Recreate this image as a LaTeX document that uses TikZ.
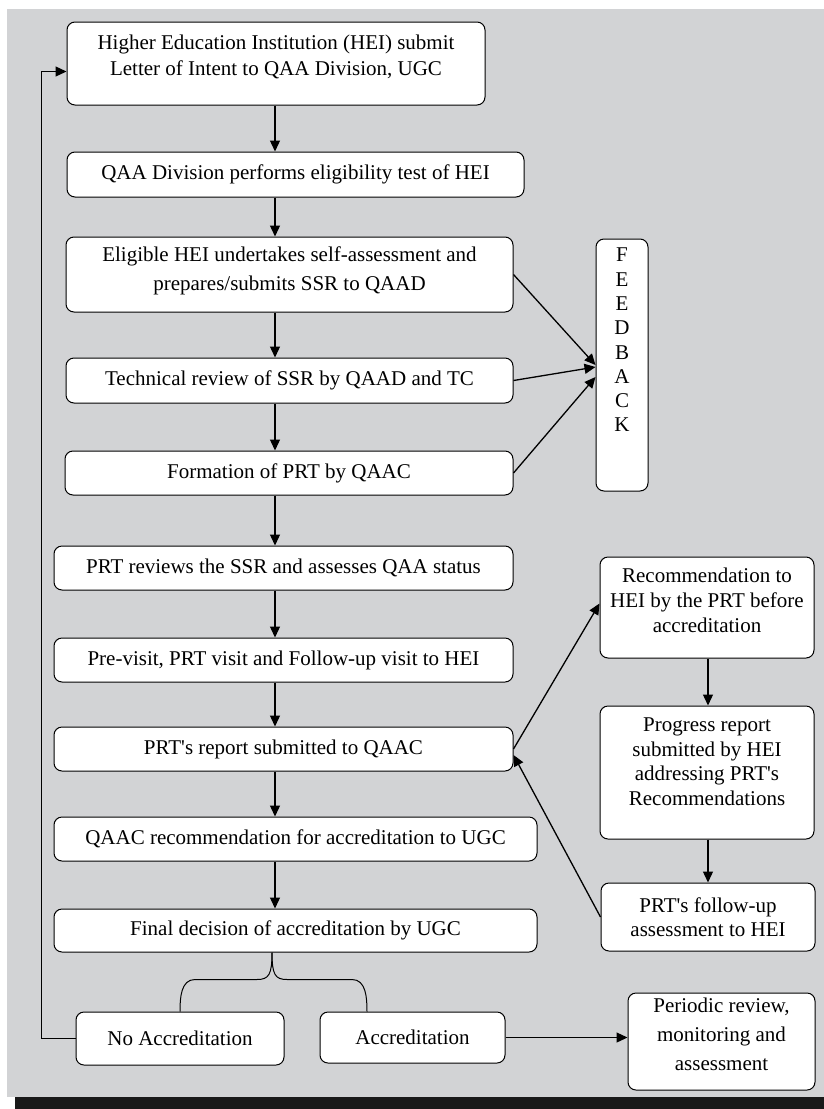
\documentclass[tikz,border=0pt]{standalone}
\usepackage{fontspec}
\setmainfont{Liberation Serif}
\usetikzlibrary{arrows.meta}
\definecolor{bggrey}{RGB}{210,211,213}
\newcommand{\boxfont}{\fontsize{21}{26}\selectfont}
\newcommand{\apos}{\textquotesingle}
\begin{document}
\begin{tikzpicture}
        [x=1pt, y=-1pt, >={Triangle[length=11pt,width=10pt]},
         box/.style={draw, fill=white, rounded corners=8pt, line width=1pt,
                     align=center, inner sep=0pt, font=\boxfont},
         link/.style={->, line width=1.3pt}]
        \useasboundingbox (0,0) rectangle (824,1109);
        \fill[bggrey] (7,9) rectangle (824,1097);
        \fill[black!90] (15,1097) rectangle (824,1109);
        % main column
        \node (hei) [box, minimum width=418, minimum height=83, text depth=17pt] at (276,63.5)
            {Higher Education Institution (HEI) submit\\Letter of Intent to QAA Division, UGC};
        \node (qaa) [box, minimum width=457, minimum height=45] at (295.5,174.5)
            {QAA Division performs eligibility test of HEI};
        \node (elig) [box, minimum width=447, minimum height=75, text depth=12pt,
            font=\fontsize{21}{29}\selectfont] at (289.5,274.5)
            {Eligible HEI undertakes self-assessment and\\prepares/submits SSR to QAAD};
        \node (tech) [box, minimum width=447, minimum height=45] at (289.5,380.5)
            {Technical review of SSR by QAAD and TC};
        \node (form) [box, minimum width=448, minimum height=44] at (289,473)
            {Formation of PRT by QAAC};
        \node (prtrev) [box, minimum width=459, minimum height=44] at (283.5,568)
            {PRT reviews the SSR and assesses QAA status};
        \node (visit) [box, minimum width=459, minimum height=44] at (283.5,660)
            {Pre-visit, PRT visit and Follow-up visit to HEI};
        \node (report) [box, minimum width=459, minimum height=44] at (283.5,749)
            {PRT\apos s report submitted to QAAC};
        \node (qaacrec) [box, minimum width=483, minimum height=44] at (295.5,839)
            {QAAC recommendation for accreditation to UGC};
        \node (final) [box, minimum width=483, minimum height=43] at (295.5,930.5)
            {Final decision of accreditation by UGC};
        \node (noacc) [box, minimum width=208, minimum height=53] at (180,1038.5)
            {No Accreditation};
        \node (acc) [box, minimum width=185, minimum height=51] at (412.5,1037.5)
            {Accreditation};
        % right side
        \node (feedback) [box, minimum width=52, minimum height=252, text depth=50pt,
            font=\fontsize{21}{24.3}\selectfont] at (622,365)
            {F\\E\\E\\D\\B\\A\\C\\K};
        \node (recom) [box, minimum width=214, minimum height=101, text depth=15pt,
            font=\fontsize{21}{25}\selectfont] at (707,607.5)
            {Recommendation to\\HEI by the PRT before\\accreditation};
        \node (progress) [box, minimum width=214, minimum height=133, text depth=22pt,
            font=\fontsize{21}{24.5}\selectfont] at (707,772.5)
            {Progress report\\submitted by HEI\\addressing PRT\apos s\\Recommendations};
        \node (followup) [box, minimum width=214, minimum height=68,
            font=\fontsize{21}{24}\selectfont] at (708,917)
            {PRT\apos s follow-up\\assessment to HEI};
        \node (periodic) [box, minimum width=187, minimum height=97, text depth=15pt,
            font=\fontsize{21}{29}\selectfont] at (721.5,1041.5)
            {Periodic review,\\monitoring and\\assessment};
        \coordinate (spine) at (275,0);
        \coordinate (tip) at (272,0);
        \coordinate (rb) at (367,0);
        % arrows down the column
        \draw [link] (hei.south -| spine) -- (qaa.north -| spine);
        \draw [link] (qaa.south -| spine) -- (elig.north -| spine);
        \draw [link] (elig.south -| spine) -- (tech.north -| spine);
        \draw [link] (tech.south -| spine) -- (form.north -| spine);
        \draw [link] (form.south -| spine) -- (prtrev.north -| spine);
        \draw [link] (prtrev.south -| spine) -- (visit.north -| spine);
        \draw [link] (visit.south -| spine) -- (report.north -| spine);
        \draw [link] (report.south -| spine) -- (qaacrec.north -| spine);
        \draw [link] (qaacrec.south -| spine) -- (final.north -| spine);
        % brace
        \draw [line width=1pt] (final.south -| tip) .. controls +(0,22) and +(12,0) .. ++(-15,27)
            -- ++(-62,0) .. controls +(-14,0) and +(0,-14) .. (noacc.north);
        \draw [line width=1pt] (final.south -| tip) .. controls +(0,22) and +(-12,0) .. ++(15,27)
            -- ++(65,0) .. controls +(14,0) and +(0,-14) .. (acc.north -| rb);
        % feedback
        \draw [link] (elig.east) -- (feedback.west);
        \draw [link] (tech.east) -- ([yshift=-2pt]feedback.west);
        \draw [link] (form.east) -- ([yshift=-12pt]feedback.west);
        % recommendations loop
        \draw [link] (report.east) -- ([yshift=4pt]recom.west);
        \draw [link] (recom.south -| followup) -- (progress.north -| followup);
        \draw [link] (progress.south -| followup) -- (followup.north);
        \draw [link] (followup.west) -- ([yshift=-6pt]report.east);
        % outcomes
        \draw [link] (acc.east) -- (acc.east -| periodic.west);
        \draw [link] (noacc.west) -- ++(-34,0) |- ([yshift=-8pt]hei.west);
    \end{tikzpicture}
\end{document}
